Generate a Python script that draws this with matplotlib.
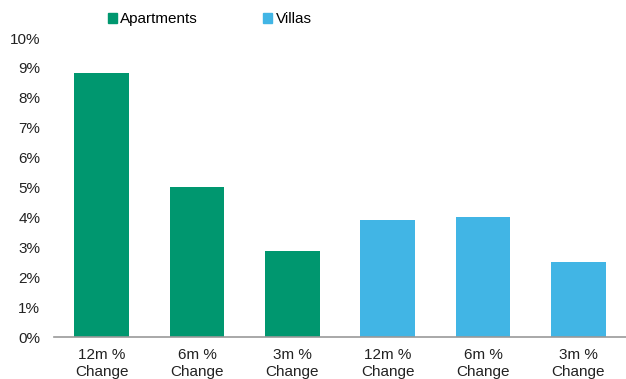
import numpy as np
import matplotlib
matplotlib.use("Agg")
import matplotlib.pyplot as plt
from matplotlib.patches import Patch

plt.rcParams["font.family"] = ["Liberation Sans", "DejaVu Sans"]

categories = ["12m %\nChange", "6m %\nChange", "3m %\nChange",
              "12m %\nChange", "6m %\nChange", "3m %\nChange"]
apartments = [8.83, 5.02, 2.88]
villas = [3.91, 4.01, 2.51]
series_names = ["Apartments", "Villas"]
yticks = np.arange(0, 11, 1)

green = "#00976F"
blue = "#41B5E5"

fig = plt.figure(figsize=(6.26, 3.79), dpi=100)
ax = fig.add_axes([0.0863, 0.1108, 0.9137, 0.7889])

x = np.arange(len(categories))
ax.bar(x[:3], apartments, width=0.575, color=green)
ax.bar(x[3:], villas, width=0.575, color=blue)

ax.set_xlim(-0.5, 5.5)
ax.set_ylim(0, 10)
ax.set_yticks(yticks)
ax.set_yticklabels([f"{v}%" for v in yticks])
ax.set_xticks(x)
ax.set_xticklabels(categories, linespacing=1.3)
ax.tick_params(length=0, labelsize=11, colors="#222222")
ax.tick_params(axis="x", pad=8)
ax.tick_params(axis="y", pad=10)
for s in ["top", "right", "left"]:
    ax.spines[s].set_visible(False)
ax.spines["bottom"].set_color("#999999")
ax.spines["bottom"].set_linewidth(1.2)

handles = [Patch(color=green), Patch(color=blue)]
fig.legend(handles, series_names, ncol=2, loc="upper left",
           bbox_to_anchor=(0.150, 1.004), frameon=False, fontsize=11,
           handlelength=0.6, handleheight=0.6, handletextpad=0.2,
           columnspacing=4.3)

fig.savefig("out.png", dpi=100)
